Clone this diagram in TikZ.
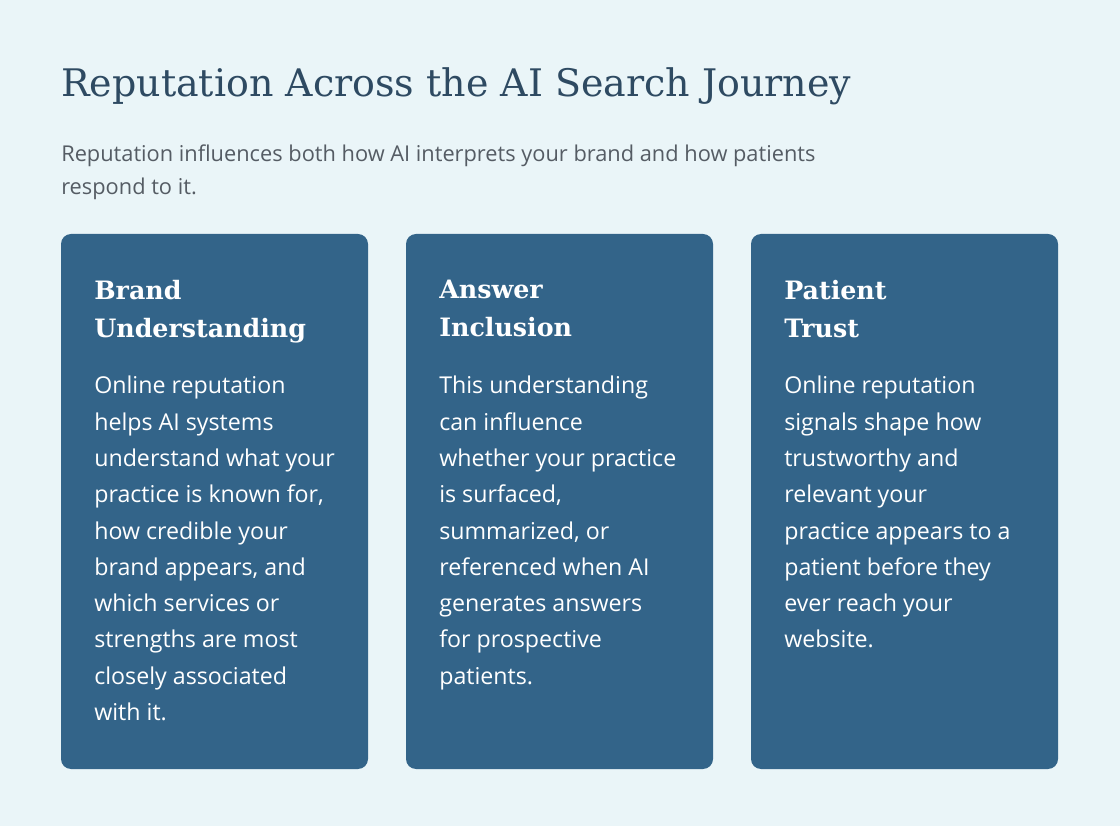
\documentclass[tikz,border=0pt]{standalone}
\usepackage{fontspec}
\setmainfont{Open Sans}
\newfontfamily\slabfont{DejaVu Serif}
\definecolor{bgcol}{RGB}{234,245,248}
\definecolor{cardcol}{RGB}{51,100,137}
\definecolor{titlecol}{RGB}{46,74,98}
\definecolor{subcol}{RGB}{85,92,100}
\begin{document}
\begin{tikzpicture}
	[x=0.025cm,y=-0.025cm,
	card/.style={fill=cardcol,rounded corners=0.25cm},
	head/.style={anchor=north west,inner sep=0pt,align=left,text=white,font=\slabfont\bfseries\fontsize{18}{27}\selectfont},
	body/.style={anchor=north west,inner sep=0pt,align=left,text=white,font=\fontsize{16.5}{25.8}\selectfont}]
	\fill[bgcol] (0,0) rectangle (1120,826);
	\node[anchor=west,inner sep=0pt,text=titlecol,font=\slabfont\fontsize{27}{32}\selectfont,name=title] at (61,86) {Reputation Across the AI Search Journey};
	\node[anchor=north west,inner sep=0pt,align=left,text=subcol,font=\fontsize{15.5}{23}\selectfont,name=sub] at (61,145) {Reputation influences both how AI interprets your brand and how patients\\respond to it.};
	% cards
	\fill[card] (61,234) rectangle (368,769);
	\fill[card] (406,234) rectangle (713,769);
	\fill[card] (751,234) rectangle (1058,769);
	\node[head,name=h1] at (94,280) {Brand\\Understanding};
	\node[head,name=h2] at (439,280) {Answer\\Inclusion};
	\node[head,name=h3] at (784,280) {Patient\\Trust};
	\node[body,name=b1] at (94,376) {Online reputation\\helps AI systems\\understand what your\\practice is known for,\\how credible your\\brand appears, and\\which services or\\strengths are most\\closely associated\\with it.};
	\node[body,name=b2] at (439,376) {This understanding\\can influence\\whether your practice\\is surfaced,\\summarized, or\\referenced when AI\\generates answers\\for prospective\\patients.};
	\node[body,name=b3] at (784,376) {Online reputation\\signals shape how\\trustworthy and\\relevant your\\practice appears to a\\patient before they\\ever reach your\\website.};
\end{tikzpicture}
\end{document}
